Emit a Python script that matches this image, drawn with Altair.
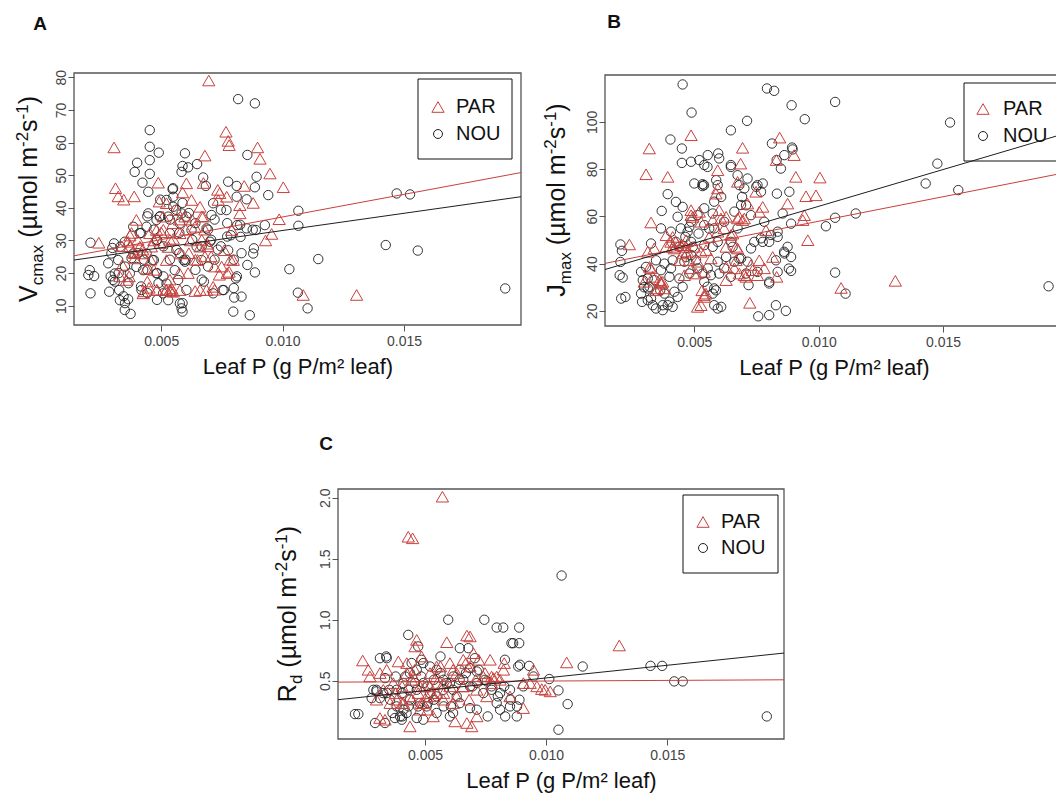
import altair as alt
import pandas as pd

W, H = 1056, 796
FONT = "Liberation Sans"
RED = "#c8403c"
BLACK = "#1e1e1e"

# ---------------- data ----------------
X_TICKS = [0.005, 0.010, 0.015]
XDOM = [0.00141, 0.01982]
X_TITLE = "Leaf P (g P/m\u00b2 leaf)"
LEGEND_LABELS = ["PAR", "NOU"]

A_YDOM = [4.1, 81.3]
A_YTICKS = [10, 20, 30, 40, 50, 60, 70, 80]
B_YDOM = [13.6, 119.8]
B_YTICKS = [20, 40, 60, 80, 100]
C_YDOM = [0.023, 2.071]
C_YTICKS = [0.5, 1.0, 1.5, 2.0]

# regression lines: y at left and right ends of the x domain
A_PAR_LINE = [25.3, 50.8]
A_NOU_LINE = [24.0, 43.4]
B_PAR_LINE = [40.1, 78.3]
B_NOU_LINE = [37.5, 94.8]
C_PAR_LINE = [0.489, 0.508]
C_NOU_LINE = [0.345, 0.727]

A_NOU_X = [0.00817,0.00886,0.00453,0.00453,0.00453,0.00453,0.0049,0.00401,0.00391,0.00423,
 0.00447,0.00447,0.00547,0.00588,0.00598,0.00584,0.00611,0.00648,0.00673,0.00684,
 0.00776,0.00811,0.00855,0.00893,0.00886,0.00941,0.00852,0.00811,0.01065,0.01065,
 0.0147,0.01525,0.01425,0.01557,0.01147,0.01028,0.01063,0.01103,0.01917,0.00797,
 0.00865,0.00801,0.00831,0.00855,0.00886,0.00808,0.00879,0.00882,0.00927,0.0089,
 0.00852,0.00813,0.00827,0.00769,0.00787,0.00776,0.00758,0.00753,0.00714,0.00707,
 0.00687,0.00701,0.00676,0.00714,0.00666,0.00646,0.00625,0.00604,0.00584,0.00577,
 0.0055,0.0055,0.00529,0.00494,0.00481,0.00536,0.00563,0.00593,0.00598,0.00556,
 0.0057,0.00522,0.00508,0.00529,0.00577,0.00588,0.00584,0.00604,0.00481,0.0047,
 0.0044,0.00426,0.00419,0.00398,0.00385,0.00371,0.0035,0.00332,0.00323,0.00309,
 0.00302,0.00286,0.00282,0.00295,0.00306,0.0033,0.0035,0.00374,0.00364,0.00209,
 0.00206,0.00209,0.002,0.00224,0.00309,0.00327,0.00412,0.0044,0.00385,0.00522,
 0.00464,0.00481]
A_NOU_Y = [73.3,72,63.8,58.7,54.6,50.4,56.9,53.8,51,47.7,
 44.9,38.3,45.7,52.8,56.7,51,52.4,53.4,49.3,46.7,
 48,46.7,56.2,49.5,46.3,43.9,42.6,43.4,39.1,34.5,
 44.4,44.1,28.6,26.9,24.3,21.2,14,9.2,15.3,8.2,
 7.1,12.5,12.8,22.5,20.2,18.4,26,27.6,34.7,33.2,
 33.7,34.7,31.1,39.3,31.6,27,14.8,14.8,41.4,37.8,
 33.7,29.6,17.4,13.8,24,28.1,33.2,37.3,38.3,35.2,
 43.4,40.3,37.3,37.3,36.3,32.2,27.1,24,23.5,20.9,
 17.9,16.8,13.8,11.7,10.7,8.2,9.2,14.8,19.9,24,
 26,20.9,14.8,21.9,26,19.9,29.6,28.1,24,19.9,
 17.9,14.3,23,26,29.1,11.7,8.7,7.5,12,29.3,
 20.9,13.8,19.4,19.1,17.4,14.8,32.2,34.2,34.2,42.4,
 24,30.1]
A_NOU_X_MORE = [0.00299,0.00292,0.00345,0.00351,0.00496,0.00549,0.00746,0.0072,0.00772,0.00825,
 0.00877,0.00831,0.00812,0.00799,0.00588,0.00483,0.00489,0.00443,0.0043,0.00404,
 0.00378,0.00351,0.00325,0.00365,0.00417,0.00443,0.00483,0.00509,0.00536,0.00575,
 0.00601,0.00641,0.00667,0.00693,0.0072,0.00733,0.00667,0.00628,0.00575,0.00536,
 0.00496,0.0047,0.00443,0.00417,0.00483,0.00509,0.00562,0.00588,0.00614,0.00641,
 0.00693,0.00706,0.00746,0.00772,0.00799]
A_NOU_Y_MORE = [27.7,19,12.9,10.8,42.5,46,39.4,36.4,35.3,34.8,
 33.3,26.1,19,15.4,10.8,20,16.9,21,24.1,26.1,
 24.6,22,20,16.9,15.9,13.9,11.8,19,24.1,26.1,
 24.1,21,18,22,24.1,27.2,28.2,30.2,32.3,36.4,
 37.4,33.3,37.4,32.3,30.2,28.2,39.4,41.5,38.4,35.3,
 33.3,30.2,28.2,31.2,24.1]

A_PAR_X = [0.00696,0.00306,0.00243,0.00312,0.00323,0.00346,0.00389,0.00488,0.00588,0.0068,
 0.00767,0.00776,0.0078,0.00897,0.00907,0.00948,0.01003,0.00986,0.00842,0.00824,
 0.00879,0.0093,0.00955,0.01085,0.01305,0.0078,0.00371,0.00364,0.00385,0.00368,
 0.00357,0.00426,0.0044,0.0046,0.00481,0.00492,0.00508,0.00522,0.00536,0.00543,
 0.0055,0.00563,0.00577,0.00598,0.00611,0.00625,0.00639,0.0066,0.00673,0.0068,
 0.00687,0.00714,0.00735,0.00749,0.0077,0.00791,0.00797,0.00824,0.00741,0.0066,
 0.00522,0.00453,0.00412,0.00398,0.00577,0.0066,0.00481,0.00604,0.0034,0.0039,
 0.0042,0.0047,0.005,0.0053,0.0055,0.0058,0.0062,0.0065,0.0069,0.0072,
 0.0074,0.0076,0.0064,0.0052,0.0045,0.0033]
A_PAR_Y = [79,58.5,29.3,46,43.5,42.5,43.5,47.7,44.7,56,
 63.3,60.5,59.2,58.5,55,50.5,46.3,36.5,46.7,40.8,
 41.5,30,32,13.3,13.3,20.4,31.5,29.6,26.5,19,
 17.9,13.8,21.4,28.1,33.2,41.9,37.3,24,14.8,15.3,
 14.3,39.3,32.2,37.3,20,42.4,34.2,28.1,37.3,25.1,
 14.8,15.8,42.4,22,43.4,33.2,24,38.3,44.5,40.3,
 41.4,32.2,28.1,36.3,14.8,14.8,14.8,47.5,22.5,24.5,
 26,30,32.5,28,30.5,26,30,24,29,22,
 19.5,27,14.5,14.8,15.5,19]
A_PAR_X_MORE = [0.00674,0.00733,0.00378,0.00371,0.00391,0.00424,0.00457,0.0047,0.00496,0.00509,
 0.00536,0.00549,0.00575,0.00601,0.00628,0.00667,0.0068,0.00667,0.00693,0.00706,
 0.00641,0.00614,0.00575,0.00536,0.00522,0.00542,0.00443,0.0043,0.00483,0.0072,
 0.00772,0.00785,0.00404,0.00338]
A_PAR_Y_MORE = [47.6,45.5,32.3,28.2,26.1,27.2,24.1,21,29.2,33.3,
 30.2,35.3,36.4,33.3,36.4,37.4,33.3,30.2,28.2,25.1,
 24.1,26.1,20,18,14.9,14.4,17.4,14.4,14.9,14.9,
 20,24.1,30.2,28.2]

B_NOU_X = [0.00453,0.00489,0.00792,0.00821,0.00891,0.01066,0.00944,0.00712,0.00647,0.01528,
 0.01477,0.0143,0.01561,0.01149,0.01066,0.01029,0.01066,0.01108,0.01924,0.00404,
 0.0045,0.0045,0.0052,0.00596,0.006,0.00553,0.00533,0.00539,0.00533,0.005,
 0.00393,0.00426,0.00453,0.00369,0.00433,0.0048,0.00464,0.00517,0.0056,0.00574,
 0.00588,0.00608,0.00647,0.00674,0.00681,0.00714,0.00692,0.00708,0.00749,0.00775,
 0.00812,0.00831,0.00848,0.00862,0.00893,0.00895,0.00832,0.00882,0.00855,0.00889,
 0.00835,0.00801,0.00775,0.00741,0.00828,0.00862,0.00875,0.00889,0.0088,0.00889,
 0.00801,0.00801,0.00828,0.00868,0.00801,0.00757,0.00708,0.00718,0.00647,0.006,
 0.00587,0.00594,0.00608,0.00574,0.00553,0.00533,0.00507,0.0048,0.00453,0.00433,
 0.00413,0.00393,0.00373,0.00346,0.00333,0.00313,0.0029,0.00286,0.00293,0.00306,
 0.00326,0.00346,0.00366,0.0038,0.004,0.00413,0.0044,0.00467,0.00494,0.00574,
 0.00628,0.00654,0.00681,0.00203,0.00209,0.00203,0.00212,0.00206,0.00223,0.00298,
 0.0032,0.0034,0.00363,0.0038]
B_NOU_Y = [115.8,103.9,114.1,113.1,107,108.4,101.1,100.4,96.4,99.7,
 82.3,73.9,71.1,61.2,59.4,55.8,36.2,27.3,30.4,92.5,
 88.7,82.6,83.8,86.6,84.5,80.9,73.6,73.2,72.8,73.9,
 69.4,66.1,64,62.3,59.8,55.5,51.3,52.7,54.8,61.2,
 75.3,68.2,80.9,77.4,73.2,76,68.2,64.7,72.5,73.9,
 90.8,83.8,80.2,85.9,89.1,88.3,69.6,70.4,61.2,56.9,
 51.3,49.2,49.2,49.2,41.4,44.3,47.1,42.8,37.9,36.9,
 32.3,31.6,22.4,20,18.2,17.7,35.8,30.9,34.4,35.8,
 28.7,21,21.7,27.3,30.2,35.8,41.4,35.8,30.2,25.9,
 21.7,22.4,20.3,21,22.4,24.5,23.8,27.3,33,38.6,
 48.5,41.4,37.2,40,34.4,41.4,47.1,42.8,47.1,47.1,
 42.8,47.1,42.1,48.1,45.4,40.7,34.1,25.2,25.9,30,
 30.2,33,28.7,27.3]
B_NOU_X_MORE = [0.002,0.00286,0.00313,0.00313,0.00326,0.00373,0.004,0.0042,0.0044,0.00406,
 0.0046,0.00487,0.00513,0.0054,0.00567,0.0058,0.0058,0.00554,0.00594,0.0062,
 0.00661,0.00688,0.00714,0.00728,0.00768,0.00808,0.00835,0.00861,0.00835,0.00754,
 0.00781,0.00728,0.00688,0.00661,0.00701,0.00754,0.00768,0.00594,0.0058,0.0054,
 0.00513,0.00487,0.00473,0.00446,0.0054,0.0058,0.0062,0.00674,0.00647,0.00594,
 0.0054,0.00487,0.00426,0.00406,0.00366,0.00487,0.0054,0.00554,0.00647]
B_NOU_Y_MORE = [35.1,36.5,33.7,29.5,25.3,22.4,23.9,28.1,33.7,38,
 40.8,43.6,38,32.3,35.1,29.5,22.4,38,40.8,38,
 40.8,42.2,40.8,46.4,50.7,52.1,53.5,45,36.5,36.5,
 57.7,60.5,64.8,62,71.8,73.2,70.4,73.2,66.2,63.4,
 60.5,57.7,53.5,54.9,56.3,54.9,57.7,54.9,49.2,49.2,
 47.8,49.2,49.2,53.5,54.9,83.1,81.7,85.9,81.7]

B_PAR_X = [0.00319,0.00306,0.00393,0.00326,0.00487,0.00694,0.00686,0.00674,0.00843,0.0083,
 0.00901,0.00908,0.01005,0.00989,0.00949,0.00875,0.00942,0.00936,0.00956,0.00831,
 0.00723,0.00513,0.0109,0.01308,0.00239,0.00387,0.00426,0.00453,0.00467,0.00487,
 0.00494,0.0052,0.00547,0.0056,0.00587,0.00594,0.00594,0.00628,0.00654,0.00668,
 0.00681,0.00668,0.00694,0.00714,0.00748,0.00761,0.00775,0.00788,0.00761,0.00734,
 0.00815,0.00708,0.00681,0.00628,0.00628,0.00547,0.0054,0.00531,0.00507,0.0048,
 0.00453,0.0044,0.00467,0.00413,0.00359,0.00366,0.00373,0.00346,0.00333,0.0032,
 0.00574,0.006,0.00387,0.00413,0.00628]
B_PAR_Y = [88.7,77.8,76.7,57.4,94.3,89,82.3,74.6,93.3,83.8,
 85.9,76.7,76.4,68.9,68.5,65.4,60.5,58.4,49.9,34.4,
 23.4,21.7,29.7,32.7,48.1,52,49.2,47.8,47.1,62.6,
 59.8,61.9,45.7,51.3,69.6,71.8,79.5,59.8,52.7,41.4,
 59.8,47.1,58.4,65.4,70.4,61.9,64,54.1,41.4,37.2,
 42.8,34.4,35.8,38.6,33,27.3,25.9,28.7,35.8,41.4,
 44.3,41.4,49.9,47.1,33,31.6,32.3,28.7,34.4,38.6,
 58.4,62.6,47.1,51.3,47.1]
B_PAR_X_MORE = [0.00406,0.0042,0.00446,0.00473,0.005,0.00527,0.00513,0.00487,0.0046,0.0054,
 0.00567,0.00594,0.0062,0.00647,0.00674,0.00661,0.00701,0.00728,0.00754,0.00781,
 0.0054,0.00527,0.00366,0.0038,0.00353,0.00299,0.00326,0.00339,0.00313,0.00487,
 0.00527,0.00607,0.00674,0.00701]
B_PAR_Y_MORE = [49.2,46.4,47.8,45,47.1,45,40.8,38,35.1,36.5,
 42.2,53.5,54.9,52.1,46.4,38,35.1,39.4,35.1,38,
 26.7,22.4,32.3,29.5,29.5,32.3,38,46.4,45,60.5,
 57.7,59.1,59.1,59.1]

C_NOU_X = [0.01064,0.00596,0.00745,0.00796,0.00823,0.00889,0.00431,0.00857,0.00864,0.00889,
 0.00644,0.00679,0.00472,0.00706,0.0083,0.00892,0.00885,0.0093,0.01151,0.01431,
 0.01479,0.01529,0.01564,0.01013,0.01051,0.01089,0.01051,0.01911,0.00314,0.00342,
 0.00335,0.00287,0.003,0.00342,0.0028,0.00314,0.00211,0.00225,0.00294,0.00335,
 0.00376,0.00397,0.00404,0.00424,0.00466,0.00493,0.00507,0.00548,0.00603,0.00607,
 0.00631,0.00644,0.00686,0.00714,0.00759,0.0081,0.00831,0.00879,0.0089,0.00851,
 0.0081,0.00775,0.00755,0.00714,0.00686,0.00644,0.00617,0.00576,0.00548,0.00521,
 0.00493,0.00466,0.00438,0.00411,0.00383,0.00356,0.00438,0.00466,0.00493,0.00521,
 0.00548,0.00576,0.00603,0.00658,0.00686,0.00714,0.00741,0.00796,0.00851,0.00906,
 0.00948,0.00479,0.00411,0.00383]
C_NOU_Y = [1.362,1.0,1.0,0.936,0.936,0.936,0.876,0.808,0.808,0.808,
 0.767,0.767,0.781,0.685,0.672,0.631,0.617,0.622,0.617,0.622,
 0.622,0.495,0.495,0.514,0.421,0.309,0.099,0.208,0.685,0.685,
 0.522,0.426,0.413,0.399,0.358,0.358,0.227,0.227,0.154,0.154,
 0.195,0.208,0.181,0.236,0.195,0.181,0.29,0.236,0.208,0.29,
 0.372,0.317,0.276,0.263,0.208,0.263,0.208,0.208,0.345,0.29,
 0.399,0.454,0.495,0.576,0.604,0.59,0.535,0.508,0.59,0.617,
 0.645,0.59,0.563,0.481,0.426,0.345,0.345,0.426,0.481,0.399,
 0.372,0.426,0.481,0.508,0.454,0.481,0.399,0.317,0.426,0.454,
 0.535,0.317,0.263,0.29]
C_NOU_X_MORE = [0.003,0.00327,0.00353,0.00406,0.00432,0.00458,0.00485,0.00511,0.00537,0.00564,
 0.0059,0.00616,0.00643,0.00669,0.00696,0.00722,0.00748,0.00775,0.00801,0.00827,
 0.00854,0.0088,0.00511,0.00537,0.00577,0.00616,0.00472,0.00432,0.00406,0.00366,
 0.00445,0.00485,0.00564,0.0034,0.00419,0.00379]
C_NOU_Y_MORE = [0.426,0.399,0.426,0.399,0.426,0.481,0.535,0.454,0.508,0.563,
 0.481,0.426,0.508,0.563,0.454,0.59,0.508,0.426,0.372,0.454,
 0.345,0.29,0.317,0.345,0.29,0.236,0.29,0.29,0.208,0.236,
 0.645,0.672,0.699,0.699,0.535,0.535]

C_PAR_X = [0.00572,0.00431,0.00449,0.01302,0.01085,0.00243,0.0059,0.00673,0.00686,0.00466,
 0.00459,0.0039,0.00425,0.00266,0.00273,0.00314,0.00342,0.00369,0.00328,0.003,
 0.00314,0.00335,0.00438,0.00479,0.00534,0.00624,0.00673,0.00693,0.00714,0.00755,
 0.00769,0.00796,0.00783,0.0081,0.00824,0.00851,0.00906,0.00948,0.00934,0.00962,
 0.00996,0.01017,0.00982,0.00906,0.00686,0.00658,0.00631,0.00603,0.00576,0.00548,
 0.00521,0.00507,0.00493,0.00479,0.00452,0.00438,0.00411,0.00383,0.00356,0.00548,
 0.00576,0.00617,0.00658,0.00714,0.00741,0.00548,0.00521,0.00425,0.00486,0.007]
C_PAR_Y = [2.008,1.68,1.667,0.789,0.65,0.666,0.816,0.871,0.863,0.835,
 0.781,0.658,0.645,0.59,0.535,0.563,0.59,0.481,0.426,0.345,
 0.195,0.181,0.126,0.263,0.208,0.167,0.154,0.126,0.208,0.372,
 0.672,0.535,0.522,0.508,0.59,0.372,0.276,0.59,0.481,0.454,
 0.426,0.413,0.432,0.481,0.617,0.672,0.563,0.645,0.481,0.535,
 0.454,0.372,0.317,0.454,0.535,0.372,0.317,0.345,0.317,0.399,
 0.345,0.317,0.454,0.426,0.535,0.617,0.563,0.563,0.699,0.726]
C_PAR_X_MORE = [0.00379,0.00406,0.00445,0.00472,0.00498,0.00524,0.00551,0.00577,0.00603,0.0063,
 0.00656,0.00682,0.00709,0.00748,0.00775,0.00485,0.00511,0.00537,0.00445,0.00406,
 0.00458,0.00564,0.00616,0.00669,0.00722,0.00775,0.00827]
C_PAR_Y_MORE = [0.399,0.454,0.508,0.399,0.454,0.399,0.481,0.399,0.454,0.372,
 0.454,0.345,0.508,0.563,0.535,0.317,0.263,0.372,0.345,0.317,
 0.59,0.617,0.59,0.645,0.672,0.481,0.645]

# ---------------- layout ----------------
# Arial/Liberation advance widths (em) for the composed y titles
CW = {'V': .667, 'J': .5, 'R': .722, 'c': .5, 'm': .833, 'a': .556, 'x': .5, 'd': .556,
      ' ': .278, '(': .333, ')': .333, '\u00b5': .576, 'o': .556, 'l': .222, '-': .333,
      '2': .556, '1': .556, 's': .5}


def tw(s, fs):
    return sum(CW.get(ch, .55) for ch in s) * fs


def ytitle_layer(sym, sub, xb, yc):
    F, f = 25, 17
    pieces = [(sym, F, 0, 0), (sub, f, 6, 0), ("(\u00b5mol m", F, 0, .278 * F),
              ("-2", f, -9, 0), ("s", F, 0, 0), ("-1", f, -9, 0), (")", F, 0, 0)]
    total = sum(tw(t, fs) + gap for t, fs, _, gap in pieces)
    y = yc + total / 2
    rows = []
    for t, fs, dx, gap in pieces:
        y -= gap
        rows.append({"t": t, "fs": fs, "px": xb + dx, "py": y})
        y -= tw(t, fs)
    return alt.Chart(pd.DataFrame(rows)).mark_text(
        angle=270, align="left", baseline="alphabetic", font=FONT, color="#111"
    ).encode(
        x=alt.X("px:Q", scale=None, axis=None),
        y=alt.Y("py:Q", scale=None, axis=None),
        text="t:N",
        size=alt.Size("fs:Q", scale=None, legend=None),
    )


def legend_layer(x0, x1, y0, y1, sx, tx, rows_y):
    box = alt.Chart().mark_rect(fill="white", stroke="#111", strokeWidth=1).encode(
        x=alt.value(x0), x2=alt.value(x1), y=alt.value(y0), y2=alt.value(y1))
    tri = alt.Chart().mark_point(shape="triangle-up", size=150, filled=False, color=RED,
                                 strokeWidth=1, opacity=1).encode(
        x=alt.value(sx), y=alt.value(rows_y[0]))
    cir = alt.Chart().mark_point(shape="circle", size=80, filled=False, color=BLACK,
                                 strokeWidth=1, opacity=1).encode(
        x=alt.value(sx), y=alt.value(rows_y[1]))
    texts = [alt.Chart().mark_text(align="left", baseline="middle", font=FONT, fontSize=20,
                                   color="#111", text=lab).encode(
        x=alt.value(tx), y=alt.value(ry)) for lab, ry in zip(LEGEND_LABELS, rows_y)]
    return [box, tri, cir] + texts


def panel(xr, yr, ydom, yticks, yfmt, par_x, par_y, nou_x, nou_y, par_line, nou_line, leg):
    assert len(par_x) == len(par_y) and len(nou_x) == len(nou_y)
    xs = alt.Scale(domain=XDOM, range=xr, nice=False, zero=False)
    ys = alt.Scale(domain=ydom, range=yr, nice=False, zero=False)
    xax = alt.Axis(orient="bottom", offset=yr[0] - H, values=X_TICKS, format=".3f",
                   domain=False, grid=False, ticks=True, tickSize=6, tickColor="#555",
                   labelFont=FONT, labelFontSize=14, labelColor="#444", labelPadding=3,
                   labelFlush=False, labelOverlap=False,
                   title=X_TITLE, titleFont=FONT, titleFontSize=22, titleFontWeight="normal",
                   titleColor="#111", titleY=48, titleBaseline="alphabetic")
    yax = alt.Axis(orient="left", offset=-xr[0], values=yticks, format=yfmt,
                   domain=False, grid=False, ticks=True, tickSize=6, tickColor="#555",
                   labelFont=FONT, labelFontSize=14, labelColor="#444", labelPadding=3,
                   labelAngle=270, labelAlign="center", labelBaseline="alphabetic",
                   labelFlush=False, labelOverlap=False, title=None)
    X = lambda f: alt.X(f, scale=xs, axis=xax)
    Y = lambda f: alt.Y(f, scale=ys, axis=yax)

    frame_df = pd.DataFrame({"x0": [XDOM[0]], "x1": [XDOM[1]], "y0": [ydom[0]], "y1": [ydom[1]]})
    frame = alt.Chart(frame_df).mark_rect(fill="white", fillOpacity=0, stroke="#555",
                                          strokeWidth=1.3).encode(
        x=X("x0:Q"), x2="x1:Q", y=Y("y0:Q"), y2="y1:Q")
    nou = alt.Chart(pd.DataFrame({"x": nou_x, "y": nou_y})).mark_point(
        shape="circle", size=88, filled=False, color=BLACK, strokeWidth=0.9, opacity=1
    ).encode(x=X("x:Q"), y=Y("y:Q"))
    par = alt.Chart(pd.DataFrame({"x": par_x, "y": par_y})).mark_point(
        shape="triangle-up", size=150, filled=False, color=RED, strokeWidth=1, opacity=1
    ).encode(x=X("x:Q"), y=Y("y:Q"))
    lines = []
    for vals, col in ((par_line, RED), (nou_line, BLACK)):
        ldf = pd.DataFrame({"x": XDOM, "y": vals})
        lines.append(alt.Chart(ldf).mark_line(color=col, strokeWidth=1).encode(
            x=X("x:Q"), y=Y("y:Q")))
    return alt.layer(frame, nou, par, *legend_layer(*leg), *lines)


pA = panel([74, 521], [325, 73], A_YDOM, A_YTICKS, "d",
           A_PAR_X + A_PAR_X_MORE, A_PAR_Y + A_PAR_Y_MORE,
           A_NOU_X + A_NOU_X_MORE, A_NOU_Y + A_NOU_Y_MORE,
           A_PAR_LINE, A_NOU_LINE, (418, 512, 79, 159, 438, 456, [107, 134]))
pB = panel([605, 1063], [326, 75], B_YDOM, B_YTICKS, "d",
           B_PAR_X + B_PAR_X_MORE, B_PAR_Y + B_PAR_Y_MORE,
           B_NOU_X + B_NOU_X_MORE, B_NOU_Y + B_NOU_Y_MORE,
           B_PAR_LINE, B_NOU_LINE, (964, 1075, 83, 161, 983, 1003, [109, 136]))
pC = panel([338, 784], [739, 489], C_YDOM, C_YTICKS, ".1f",
           C_PAR_X + C_PAR_X_MORE, C_PAR_Y + C_PAR_Y_MORE,
           C_NOU_X + C_NOU_X_MORE, C_NOU_Y + C_NOU_Y_MORE,
           C_PAR_LINE, C_NOU_LINE, (683, 778, 495, 573, 703, 721, [522, 548]))

tA = ytitle_layer("V", "cmax", 37, 199)
tB = ytitle_layer("J", "max", 565, 200)
tC = ytitle_layer("R", "d", 296, 614)

letters = [alt.Chart().mark_text(font=FONT, fontSize=19, fontWeight="bold", color="#111",
                                 text=t, align="center", baseline="middle").encode(
    x=alt.value(px), y=alt.value(py)) for t, px, py in (("A", 40, 24), ("B", 614, 22), ("C", 326, 444))]

chart = alt.layer(pA, pB, pC, tA, tB, tC, *letters).resolve_scale(
    x="independent", y="independent"
).resolve_axis(x="independent", y="independent").properties(
    width=W, height=H, autosize="none", padding=0
).configure_view(stroke=None)

chart.save("out.html", embed_options={"renderer": "svg", "actions": False})
